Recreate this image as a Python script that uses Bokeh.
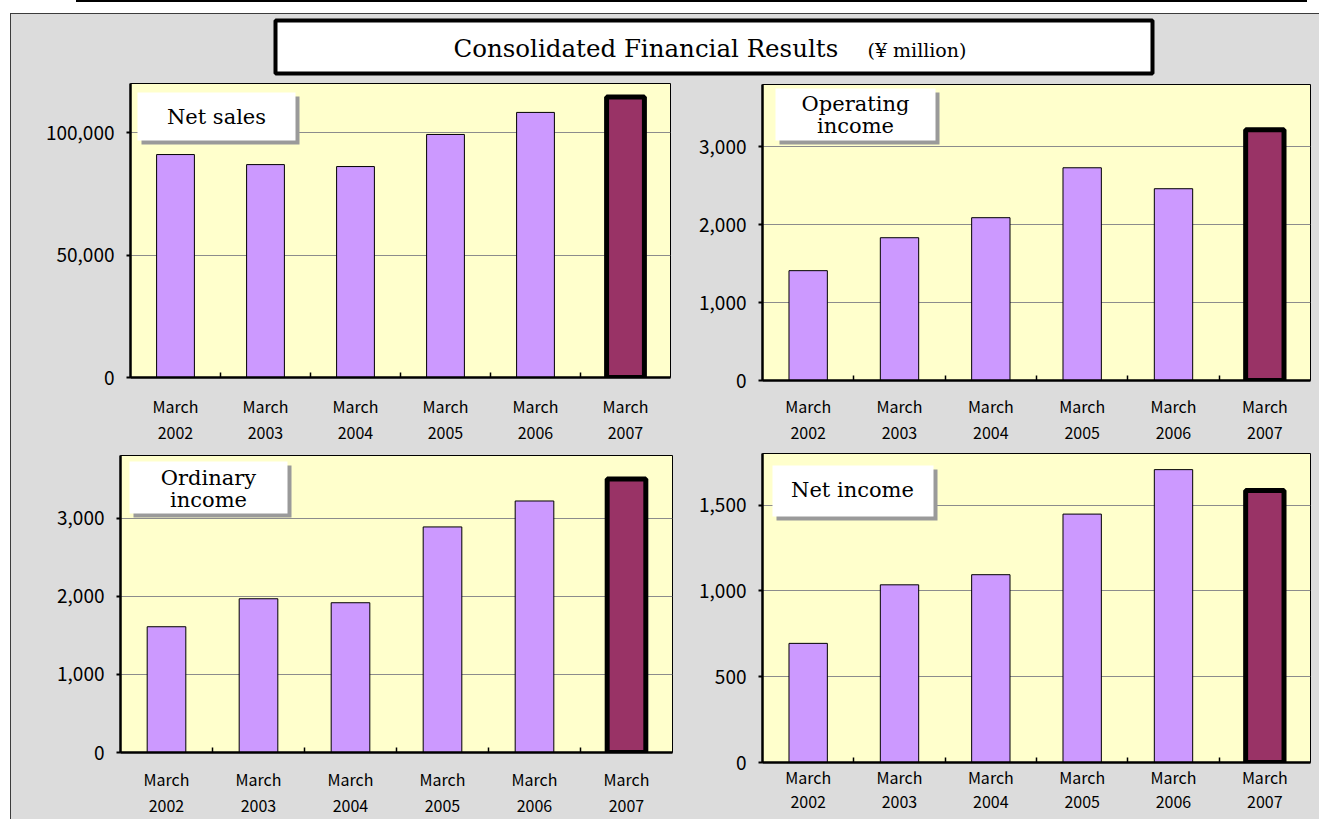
from bokeh.plotting import figure
from bokeh.models import (Range1d, FixedTicker, SingleIntervalTicker, NumeralTickFormatter,
                          BoxAnnotation, Label, Div, ColumnDataSource)
from bokeh.layouts import column, row
from bokeh.embed import file_html
from bokeh.resources import INLINE

# ---------------- data ----------------
years = ["2002", "2003", "2004", "2005", "2006", "2007"]
tick_labels = ["March\n" + y for y in years]
net_sales = [91000, 86900, 86100, 99200, 108200, 114500]
operating_income = [1410, 1833, 2090, 2731, 2462, 3220]
ordinary_income = [1609, 1967, 1916, 2886, 3218, 3500]
net_income = [694, 1035, 1094, 1447, 1706, 1585]

title_main = "Consolidated Financial Results"
title_unit = "(\u00a5 million)"

GRAY = "#dcdcdc"
PLOT_BG = "#ffffcc"
BAR = "#cc99ff"
HILITE = "#993366"
LABEL_FONT = "Noto Sans CJK JP"
SERIF = "DejaVu Serif"

xs = list(range(len(years)))
x_range = (-0.5, len(years) - 0.5)


def make_panel(values, ymax, interval, label_lines, fig_w, fig_h, mb_left, frame_w,
               mb_top, frame_h, box_px, text_px, standoff, line_h):
    mb_right = fig_w - mb_left - frame_w
    mb_bottom = fig_h - mb_top - frame_h
    p = figure(width=fig_w, height=fig_h, output_backend="svg", toolbar_location=None,
               x_range=Range1d(*x_range), y_range=Range1d(0, ymax),
               min_border_left=mb_left, min_border_right=mb_right,
               min_border_top=mb_top, min_border_bottom=mb_bottom)
    p.background_fill_color = PLOT_BG
    p.border_fill_color = GRAY
    p.outline_line_color = "black"
    p.outline_line_width = 1

    n = len(values)
    src_reg = ColumnDataSource(dict(x=xs[:n - 1], top=values[:n - 1]))
    src_hi = ColumnDataSource(dict(x=xs[n - 1:], top=values[n - 1:]))
    p.vbar(x="x", top="top", width=0.42, bottom=0, source=src_reg,
           fill_color=BAR, line_color="black", line_width=1)
    p.vbar(x="x", top="top", width=0.42, bottom=0, source=src_hi,
           fill_color=HILITE, line_color="black", line_width=5)

    # axes
    p.xgrid.visible = False
    p.ygrid.grid_line_color = "#8c8c8c"
    p.ygrid.grid_line_width = 1.2
    p.yaxis.ticker = SingleIntervalTicker(interval=interval)
    p.yaxis.formatter = NumeralTickFormatter(format="0,0")
    p.yaxis.axis_line_width = 2.5
    p.yaxis.axis_line_color = "black"
    p.yaxis.major_tick_in = 0
    p.yaxis.major_tick_out = 4
    p.yaxis.major_tick_line_width = 2
    p.yaxis.minor_tick_line_color = None
    p.yaxis.major_label_standoff = 12
    p.yaxis.major_label_text_font = LABEL_FONT
    p.yaxis.major_label_text_font_size = "19px"
    p.yaxis.major_label_text_color = "black"

    p.xaxis.ticker = FixedTicker(ticks=xs, minor_ticks=[x + 0.5 for x in xs[:-1]])
    p.xaxis.major_label_overrides = {x: lab for x, lab in zip(xs, tick_labels)}
    p.xaxis.axis_line_width = 2.5
    p.xaxis.axis_line_color = "black"
    p.xaxis.major_tick_in = 0
    p.xaxis.major_tick_out = 0
    p.xaxis.minor_tick_in = 5
    p.xaxis.minor_tick_out = 0
    p.xaxis.minor_tick_line_width = 1.5
    p.xaxis.minor_tick_line_color = "black"
    p.xaxis.major_label_standoff = standoff
    p.xaxis.major_label_text_font = LABEL_FONT
    p.xaxis.major_label_text_font_size = "16px"
    p.xaxis.major_label_text_line_height = line_h
    p.xaxis.major_label_text_color = "black"

    # label box (pixel offsets within the frame converted to data units)
    def dx(px):
        return x_range[0] + px / frame_w * (x_range[1] - x_range[0])

    def dy(py):
        return ymax - py / frame_h * ymax

    l, t, r, b = box_px
    p.add_layout(BoxAnnotation(left=dx(l + 4), right=dx(r + 4), top=dy(t + 4), bottom=dy(b + 4),
                               fill_color="#9a9a9a", fill_alpha=1, line_color=None))
    p.add_layout(BoxAnnotation(left=dx(l), right=dx(r), top=dy(t), bottom=dy(b),
                               fill_color="white", fill_alpha=1, line_color=None))
    cx, cy0, step = text_px
    for i, line in enumerate(label_lines):
        p.add_layout(Label(x=dx(cx), y=dy(cy0 + i * step), text=line, text_align="center",
                           text_baseline="middle", text_font=SERIF, text_font_size="21px",
                           text_color="black"))
    return p


LEFT_W, RIGHT_W = 673, 635
TOP_H, BOT_H = 368, 371

tl = make_panel(net_sales, 120000, 50000, ["Net sales"], LEFT_W, TOP_H, 119, 540, 3, 294,
                (7, 9, 165, 57), (86, 33, 0), 16, 1.094)
tr = make_panel(operating_income, 3800, 1000, ["Operating", "income"], RIGHT_W, TOP_H, 78, 548, 4, 296,
                (13, 4, 173, 56), (93, 19, 22), 13, 1.094)
bl = make_panel(ordinary_income, 3800, 1000, ["Ordinary", "income"], LEFT_W, BOT_H, 109, 552, 7, 297,
                (9, 6, 167, 58), (88, 22, 22), 14, 1.094)
br = make_panel(net_income, 1800, 500, ["Net income"], RIGHT_W, BOT_H, 78, 548, 5, 309,
                (10, 12, 171, 63), (90, 36, 0), 2, 1.0)

# title box
TW = LEFT_W + RIGHT_W
tf = figure(width=TW, height=66, output_backend="svg", toolbar_location=None,
            x_range=Range1d(0, 1), y_range=Range1d(0, 1),
            x_axis_location=None, y_axis_location=None,
            min_border_left=264, min_border_right=TW - 264 - 877,
            min_border_top=6, min_border_bottom=7)
tf.grid.visible = False
tf.background_fill_color = "white"
tf.border_fill_color = GRAY
tf.outline_line_color = "black"
tf.outline_line_width = 4
tf.add_layout(Label(x=178 / 877, y=0.48, text=title_main, text_align="left",
                    text_baseline="middle", text_font=SERIF, text_font_size="24.5px",
                    text_color="black"))
tf.add_layout(Label(x=592 / 877, y=0.44, text=title_unit, text_align="left",
                    text_baseline="middle", text_font=SERIF, text_font_size="19px",
                    text_color="black"))

top_row = row(column(tl), column(tr))
bottom_row = row(column(bl), column(br))
panel = column(tf, top_row, bottom_row,
               styles={"background-color": GRAY, "border-top": "1px solid #3c3c3c",
                       "border-left": "1px solid #3c3c3c"},
               margin=(0, 0, 0, 10))
topline = Div(text="", width=1231, height=2, margin=(0, 0, 11, 76),
              styles={"background-color": "black"})
layout = column(topline, panel)

open("out.html", "w").write(file_html(layout, INLINE))
